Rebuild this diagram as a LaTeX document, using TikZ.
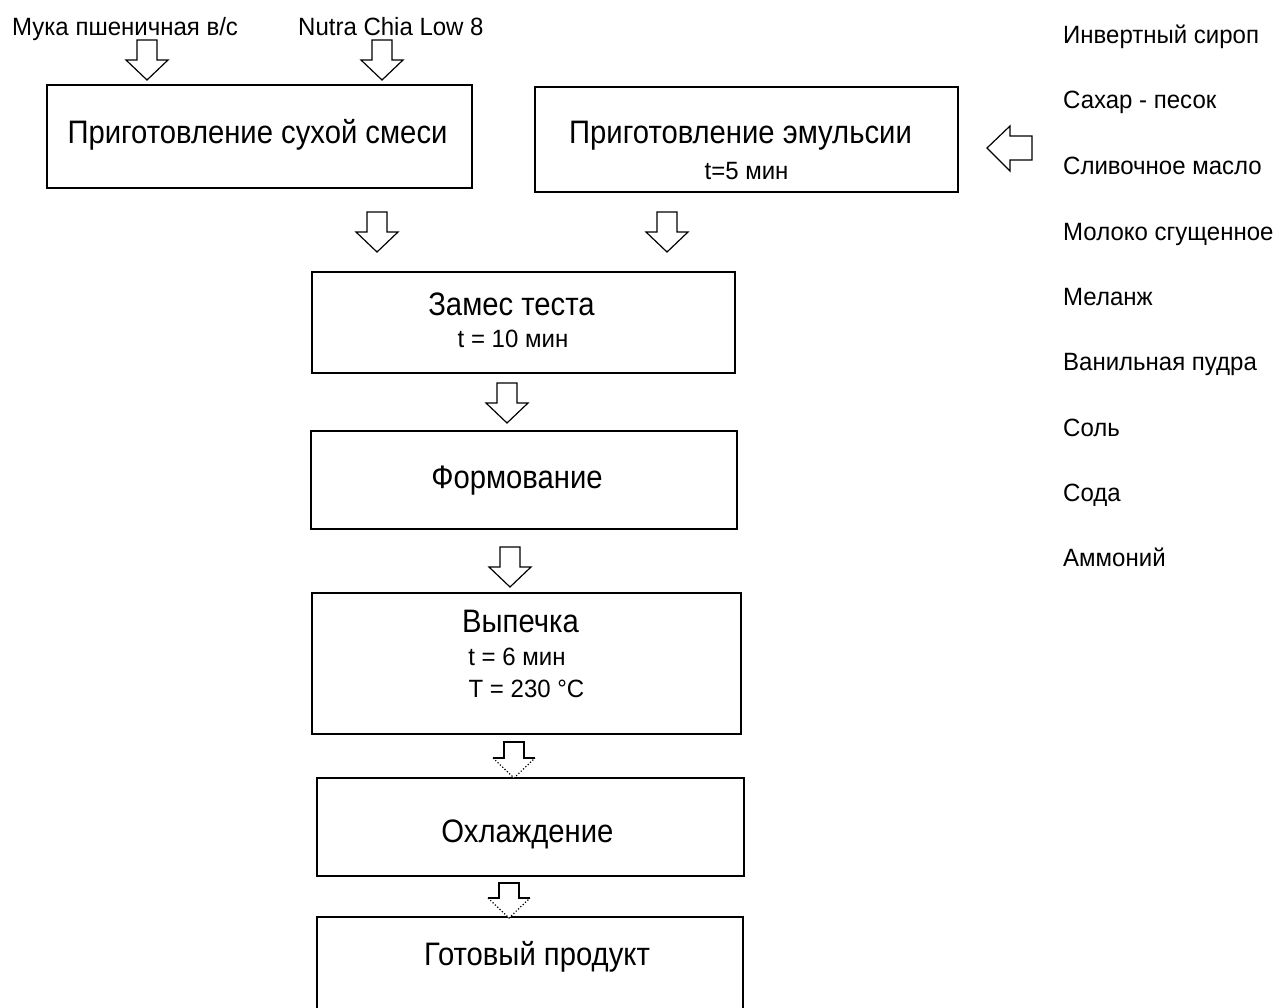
\documentclass[tikz,border=0pt]{standalone}
\usepackage{fontspec}
\setmainfont{Liberation Sans}
\newfontfamily\bigf{Liberation Sans}[FakeStretch=0.9]
\newfontfamily\smallf{Liberation Sans}[FakeStretch=0.96]
\begin{document}
\begin{tikzpicture}[x=1pt,y=-1pt,
  box/.style={draw=black,line width=1.8pt,minimum width=#1,inner sep=0pt},
  big/.style={font=\bigf\fontsize{32.5}{36}\selectfont,inner sep=0pt},
  small/.style={font=\smallf\fontsize{25}{28}\selectfont,inner sep=0pt},
  lab/.style={font=\smallf\fontsize{25}{28}\selectfont,inner sep=0pt,anchor=base west},
  blockarrow/.style={draw=black,line width=1.2pt,fill=white,line join=miter},
  pics/dblock/.style={code={
    \draw[blockarrow] (-10,0) -- (-10,#1) -- (-21,#1) -- (0,#1+20) -- (21,#1) -- (10,#1) -- (10,0) -- cycle;}},
  pics/dblock/.default=20,
  pics/dblockdot/.style={code={
    \fill[white] (-10,0) -- (-10,#1) -- (-21,#1) -- (0,#1+20) -- (21,#1) -- (10,#1) -- (10,0) -- cycle;
    \draw[line width=1.2pt] (-21,#1) -- (-10,#1) -- (-10,0) -- (10,0) -- (10,#1) -- (21,#1);
    \draw[line width=1.2pt,dotted] (-21,#1) -- (0,#1+20) -- (21,#1);}},
]
\useasboundingbox (0,0) rectangle (1280,1007);
\clip (0,0) rectangle (1280,1007);

% boxes
\node[box=425pt,minimum height=103pt] (b1) at (259.5,136.5) {};
\node[box=423pt,minimum height=105pt] (b2) at (746.5,139.5) {};
\node[box=423pt,minimum height=101pt] (b3) at (523.5,322.5) {};
\node[box=426pt,minimum height=98pt]  (b4) at (524,480) {};
\node[box=429pt,minimum height=141pt] (b5) at (526.5,663.5) {};
\node[box=427pt,minimum height=98pt]  (b6) at (530.5,827) {};
\node[box=426pt,minimum height=113pt] (b7) at (530,973.5) {};

% box texts
\node[big,anchor=base] (t1) at (257.5,143) {Приготовление сухой смеси};
\node[big,anchor=base] (t2) at (740.5,143) {Приготовление эмульсии};
\node[small,anchor=base] (t2b) at (746.5,179) {t=5 мин};
\node[big,anchor=base] (t3) at (511.5,315) {Замес теста};
\node[small,anchor=base] (t3b) at (513,347) {t = 10 мин};
\node[big,anchor=base] (t4) at (517,488) {Формование};
\node[big,anchor=base] (t5) at (520.5,632) {Выпечка};
\node[small,anchor=base] (t5b) at (517,665) {t = 6 мин};
\node[small,anchor=base] (t5c) at (526.5,697) {T = 230 °C};
\node[big,anchor=base] (t6) at (527.5,842) {Охлаждение};
\node[big,anchor=base] (t7) at (537,965) {Готовый продукт};

% top labels
\node[lab] (l1) at (12,35) {Мука пшеничная в/с};
\node[lab] (l2) at (298,35) {Nutra Chia Low 8};

% right labels
\node[lab] (r1) at (1063,43) {Инвертный сироп};
\node[lab] (r2) at (1063,108) {Сахар - песок};
\node[lab] (r3) at (1063,174) {Сливочное масло};
\node[lab] (r4) at (1063,240) {Молоко сгущенное};
\node[lab] (r5) at (1063,305) {Меланж};
\node[lab] (r6) at (1063,370) {Ванильная пудра};
\node[lab] (r7) at (1063,436) {Соль};
\node[lab] (r8) at (1063,501) {Сода};
\node[lab] (r9) at (1063,566) {Аммоний};

% block arrows
\pic at (147,40) {dblock};
\pic at (382,40) {dblock};
\pic at (377,212) {dblock};
\pic at (667,212) {dblock};
\pic at (507,383) {dblock};
\pic at (510,547) {dblock};
\pic at (514,742) {dblockdot=16};
\pic at (509,883) {dblockdot=15};

% left-pointing arrow into emulsion
\draw[blockarrow] (1032,136) -- (1010,136) -- (1010,126) -- (987,148) -- (1010,171) -- (1010,160) -- (1032,160) -- cycle;
\end{tikzpicture}
\end{document}
